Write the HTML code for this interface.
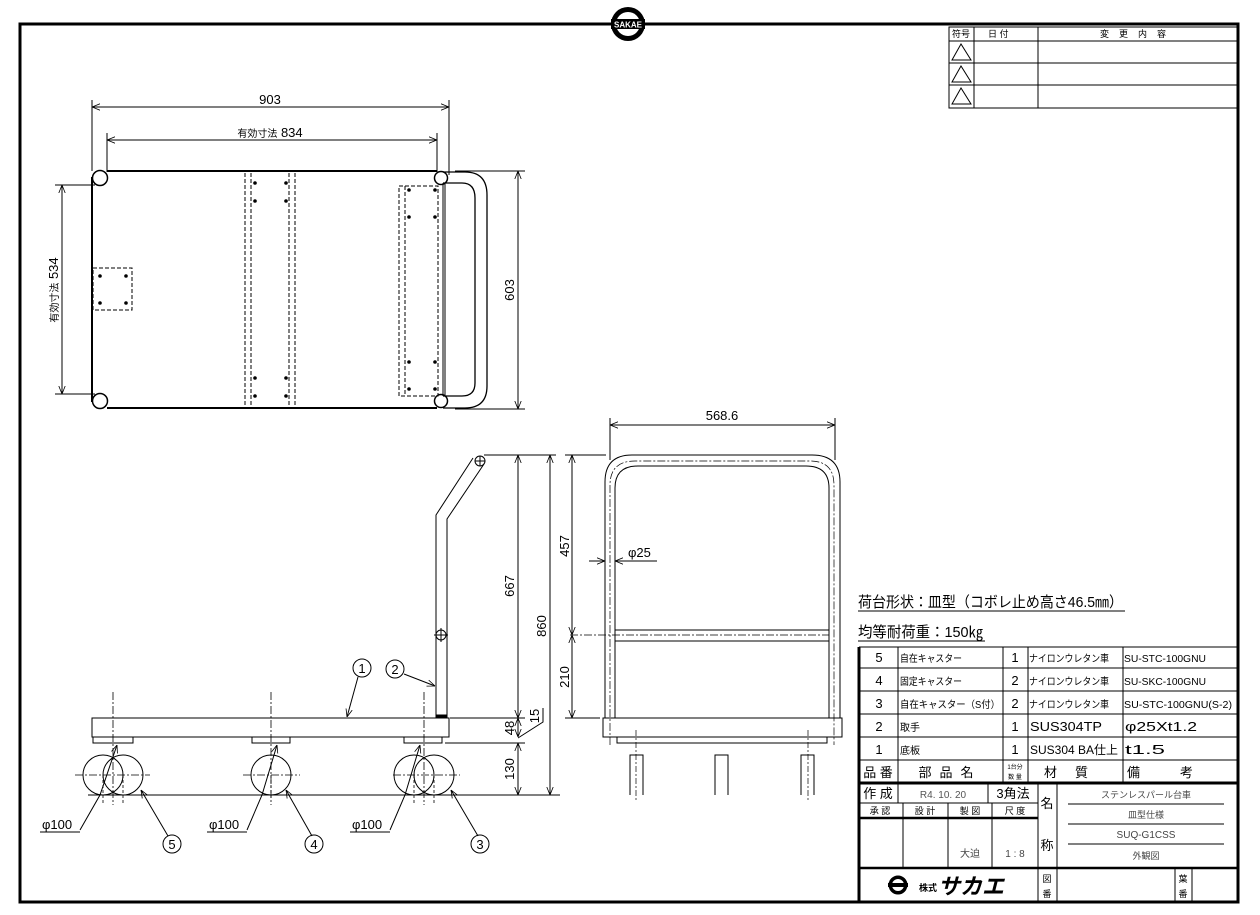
<!DOCTYPE html>
<html><head><meta charset="utf-8"><style>
html,body{margin:0;padding:0;background:#fff}
svg{display:block}
text{font-family:"Liberation Sans","Noto Sans CJK JP",sans-serif;fill:#000}
</style></head><body>
<svg width="1260" height="915" viewBox="0 0 1260 915" xmlns="http://www.w3.org/2000/svg" stroke="#000" fill="none" stroke-width="1">
<defs>
<marker id="a" viewBox="0 0 10 10" refX="10" refY="5" markerWidth="8" markerHeight="8" orient="auto-start-reverse"><path d="M0,1 L10,5 L0,9" fill="none" stroke="#000" stroke-width="1"/></marker>
</defs>
<rect x="20" y="24" width="1218" height="878" stroke-width="3"/>
<circle cx="628" cy="24" r="17" fill="#000" stroke="none"/>
<circle cx="628" cy="24" r="12" fill="#fff" stroke="none"/>
<rect x="611" y="19" width="34" height="10" fill="#000" stroke="none"/>
<text x="628" y="27.5" font-size="8" text-anchor="middle" stroke="none" style="fill:#fff" font-weight="bold">SAKAE</text>

<g stroke-width="1">
<rect x="949" y="27" width="289" height="81"/>
<line x1="949" y1="41" x2="1238" y2="41"/><line x1="949" y1="63" x2="1238" y2="63"/><line x1="949" y1="85" x2="1238" y2="85"/>
<line x1="974" y1="27" x2="974" y2="108"/><line x1="1038" y1="27" x2="1038" y2="108"/>
<path d="M961,44 L952,60 L971,60 Z M961,66 L952,82 L971,82 Z M961,88 L952,104 L971,104 Z"/>
</g>
<g font-size="9" stroke="none">
<text x="952" y="37">符号</text><text x="988" y="37">日 付</text><text x="1100" y="37" letter-spacing="10">変更内容</text>
</g>

<g>
<line x1="92" y1="100" x2="92" y2="171"/><line x1="449" y1="100" x2="449" y2="175"/>
<line x1="92" y1="107" x2="449" y2="107" marker-start="url(#a)" marker-end="url(#a)"/>
<line x1="107" y1="133" x2="107" y2="172"/><line x1="437" y1="133" x2="437" y2="172"/>
<line x1="107" y1="140" x2="437" y2="140" marker-start="url(#a)" marker-end="url(#a)"/>
<line x1="55" y1="185" x2="95" y2="185"/><line x1="55" y1="394" x2="95" y2="394"/>
<line x1="62" y1="185" x2="62" y2="394" marker-start="url(#a)" marker-end="url(#a)"/>
<line x1="455" y1="171" x2="525" y2="171"/><line x1="455" y1="409" x2="525" y2="409"/>
<line x1="518" y1="171" x2="518" y2="409" marker-start="url(#a)" marker-end="url(#a)"/>
<g stroke="none" font-size="13">
<text x="270" y="104" text-anchor="middle">903</text>
<text x="270" y="137" text-anchor="middle"><tspan font-size="10">有効寸法</tspan> 834</text>
<text transform="translate(58,290) rotate(-90)" text-anchor="middle"><tspan font-size="10">有効寸法</tspan> 534</text>
<text transform="translate(514,290) rotate(-90)" text-anchor="middle">603</text>
</g>
<path d="M92,177 V402 M107,171 H437 M107,408 H437" stroke-width="2"/>
<circle cx="100" cy="178" r="7.5" stroke-width="1.5"/><circle cx="100" cy="401" r="7.5" stroke-width="1.5"/>
<circle cx="441" cy="178" r="6.5" stroke-width="1.5"/><circle cx="441" cy="401" r="6.5" stroke-width="1.5"/>
<path d="M443,172 H465 Q487,172 487,195 V386 Q487,408 465,408 H443" stroke-width="1.3"/>
<path d="M443,183 H462 Q475,183 475,198 V383 Q475,396 462,396 H443" stroke-width="1.3"/>
<line x1="443" y1="183" x2="443" y2="396"/><line x1="445" y1="183" x2="445" y2="396"/>
<g stroke-dasharray="4,2">
<line x1="245" y1="173" x2="245" y2="407"/><line x1="251" y1="173" x2="251" y2="407"/>
<line x1="289" y1="173" x2="289" y2="407"/><line x1="295" y1="173" x2="295" y2="407"/>
<rect x="93" y="268" width="39" height="42"/>
<rect x="399" y="186" width="39" height="210"/>
<line x1="405" y1="186" x2="405" y2="396"/>
</g>
<g fill="#000" stroke="none">
<circle cx="255" cy="183" r="1.8"/><circle cx="255" cy="201" r="1.8"/><circle cx="286" cy="183" r="1.8"/><circle cx="286" cy="201" r="1.8"/>
<circle cx="255" cy="378" r="1.8"/><circle cx="255" cy="396" r="1.8"/><circle cx="286" cy="378" r="1.8"/><circle cx="286" cy="396" r="1.8"/>
<circle cx="100" cy="276" r="1.8"/><circle cx="126" cy="276" r="1.8"/><circle cx="100" cy="303" r="1.8"/><circle cx="126" cy="303" r="1.8"/>
<circle cx="409" cy="190" r="1.8"/><circle cx="435" cy="190" r="1.8"/><circle cx="409" cy="217" r="1.8"/><circle cx="435" cy="217" r="1.8"/>
<circle cx="409" cy="362" r="1.8"/><circle cx="435" cy="362" r="1.8"/><circle cx="409" cy="389" r="1.8"/><circle cx="435" cy="389" r="1.8"/>
</g>
</g>

<g>
<line x1="88" y1="795" x2="560" y2="795"/>
<rect x="92" y="718" width="357" height="19"/>
<rect x="93" y="737" width="40" height="6"/><rect x="252" y="737" width="38" height="6"/><rect x="404" y="737" width="38" height="6"/>
<rect x="436" y="715" width="11" height="3" fill="#000"/>
<path d="M436,715 V515 L473,458 M447,715 V519 L484,464"/>
<circle cx="480" cy="461" r="5"/><line x1="475" y1="461" x2="485" y2="461"/><line x1="480" y1="456" x2="480" y2="466"/>
<circle cx="441" cy="635" r="5"/><line x1="434" y1="635" x2="448" y2="635"/><line x1="441" y1="628" x2="441" y2="642"/>
<circle cx="103" cy="775" r="20"/><circle cx="123" cy="775" r="20"/>
<circle cx="271" cy="775" r="20"/>
<circle cx="414" cy="775" r="20"/><circle cx="434" cy="775" r="20"/>
<g stroke-dasharray="8,2,2,2" stroke-width="0.8">
<line x1="113" y1="692" x2="113" y2="805"/><line x1="75" y1="775" x2="150" y2="775"/>
<line x1="271" y1="692" x2="271" y2="805"/><line x1="243" y1="775" x2="300" y2="775"/>
<line x1="424" y1="692" x2="424" y2="805"/><line x1="393" y1="775" x2="460" y2="775"/>
</g>
<g stroke-dasharray="3,2" stroke-width="0.8">
<line x1="103" y1="775" x2="103" y2="803"/><line x1="123" y1="775" x2="123" y2="803"/>
<line x1="414" y1="775" x2="414" y2="803"/><line x1="434" y1="775" x2="434" y2="803"/>
<line x1="271" y1="775" x2="271" y2="800"/>
</g>
<path d="M80,830 L100,795 L117,745" marker-end="url(#a)"/><line x1="40" y1="832" x2="80" y2="832"/>
<path d="M247,830 L262,795 L277,745" marker-end="url(#a)"/><line x1="207" y1="832" x2="247" y2="832"/>
<path d="M390,830 L405,795 L420,745" marker-end="url(#a)"/><line x1="350" y1="832" x2="390" y2="832"/>
<line x1="168" y1="836" x2="141" y2="790" marker-end="url(#a)"/>
<line x1="312" y1="836" x2="286" y2="790" marker-end="url(#a)"/>
<line x1="478" y1="836" x2="451" y2="790" marker-end="url(#a)"/>
<circle cx="172" cy="844" r="9"/><circle cx="314" cy="844" r="9"/><circle cx="480" cy="844" r="9"/>
<circle cx="362" cy="668" r="9"/><circle cx="395" cy="669" r="9"/>
<line x1="358" y1="677" x2="347" y2="717" marker-end="url(#a)"/>
<line x1="404" y1="674" x2="435" y2="686" marker-end="url(#a)"/>
<g stroke="none" font-size="13">
<text x="42" y="829">φ100</text><text x="209" y="829">φ100</text><text x="352" y="829">φ100</text>
<text x="172" y="849" text-anchor="middle">5</text><text x="314" y="849" text-anchor="middle">4</text><text x="480" y="849" text-anchor="middle">3</text>
<text x="362" y="673" text-anchor="middle">1</text><text x="395" y="674" text-anchor="middle">2</text>
</g>
<line x1="484" y1="455" x2="556" y2="455"/>
<line x1="450" y1="718" x2="525" y2="718"/>
<line x1="445" y1="743" x2="525" y2="743"/>
<line x1="518" y1="455" x2="518" y2="718" marker-start="url(#a)" marker-end="url(#a)"/>
<line x1="518" y1="718" x2="518" y2="737" marker-start="url(#a)" marker-end="url(#a)"/>
<line x1="518" y1="743" x2="518" y2="795" marker-start="url(#a)" marker-end="url(#a)"/>
<line x1="550" y1="455" x2="550" y2="795" marker-start="url(#a)" marker-end="url(#a)"/>
<path d="M518,738 L543,722 V708"/>
<g stroke="none" font-size="13">
<text transform="translate(514,586) rotate(-90)" text-anchor="middle">667</text>
<text transform="translate(546,626) rotate(-90)" text-anchor="middle">860</text>
<text transform="translate(514,728) rotate(-90)" text-anchor="middle">48</text>
<text transform="translate(539,716) rotate(-90)" text-anchor="middle">15</text>
<text transform="translate(514,769) rotate(-90)" text-anchor="middle">130</text>
</g>
</g>

<g>
<line x1="610" y1="418" x2="610" y2="460"/><line x1="835" y1="418" x2="835" y2="460"/>
<line x1="610" y1="425" x2="835" y2="425" marker-start="url(#a)" marker-end="url(#a)"/>
<text x="722" y="420" font-size="13" stroke="none" text-anchor="middle">568.6</text>
<path d="M605,718 V482 Q605,455 632,455 H812 Q840,455 840,482 V718"/>
<path d="M615,718 V488 Q615,466 638,466 H806 Q829,466 829,488 V718"/>
<path d="M610,745 V485 Q610,461 635,461 H810 Q834,461 834,485 V745" stroke-dasharray="8,2,2,2" stroke-width="0.7"/>
<line x1="615" y1="630" x2="829" y2="630"/><line x1="615" y1="641" x2="829" y2="641"/>
<line x1="570" y1="635" x2="829" y2="635" stroke-dasharray="8,2,2,2" stroke-width="0.7"/>
<rect x="603" y="718" width="239" height="19"/>
<rect x="617" y="737" width="210" height="6"/>
<line x1="636" y1="730" x2="636" y2="800" stroke-dasharray="6,2,2,2" stroke-width="0.7"/>
<line x1="808" y1="730" x2="808" y2="800" stroke-dasharray="6,2,2,2" stroke-width="0.7"/>
<path d="M630,795 V755 H643 V795 M715,795 V755 H728 V795 M801,795 V755 H814 V795"/>
<line x1="565" y1="455" x2="606" y2="455"/><line x1="565" y1="718" x2="600" y2="718"/>
<line x1="572" y1="455" x2="572" y2="635" marker-start="url(#a)" marker-end="url(#a)"/>
<line x1="572" y1="635" x2="572" y2="718" marker-start="url(#a)" marker-end="url(#a)"/>
<line x1="589" y1="561" x2="605" y2="561" marker-end="url(#a)"/>
<line x1="657" y1="561" x2="615" y2="561" marker-end="url(#a)"/>
<g stroke="none" font-size="13">
<text x="628" y="557">φ25</text>
<text transform="translate(569,546) rotate(-90)" text-anchor="middle">457</text>
<text transform="translate(569,677) rotate(-90)" text-anchor="middle">210</text>
</g>
</g>

<g stroke="none" font-size="15">
<text x="858" y="607" textLength="265" lengthAdjust="spacingAndGlyphs">荷台形状：皿型（コボレ止め高さ46.5㎜）</text>
<text x="858" y="637" textLength="125" lengthAdjust="spacingAndGlyphs">均等耐荷重：150㎏</text>
</g>
<line x1="858" y1="611" x2="1125" y2="611"/>
<line x1="858" y1="641" x2="985" y2="641"/>

<g>
<line x1="859" y1="647" x2="859" y2="902" stroke-width="3"/>
<line x1="859" y1="647" x2="1238" y2="647"/>
<line x1="859" y1="668" x2="1238" y2="668"/><line x1="859" y1="691" x2="1238" y2="691"/>
<line x1="859" y1="714" x2="1238" y2="714"/><line x1="859" y1="737" x2="1238" y2="737"/>
<line x1="859" y1="760" x2="1238" y2="760"/>
<line x1="859" y1="783" x2="1238" y2="783" stroke-width="3"/>
<line x1="898" y1="647" x2="898" y2="783"/><line x1="1003" y1="647" x2="1003" y2="783"/>
<line x1="1028" y1="647" x2="1028" y2="783"/><line x1="1123" y1="647" x2="1123" y2="783"/>
<line x1="859" y1="803" x2="1038" y2="803"/>
<line x1="859" y1="818" x2="1038" y2="818" stroke-width="2.5"/>
<line x1="859" y1="868" x2="1238" y2="868" stroke-width="2.5"/>
<line x1="898" y1="783" x2="898" y2="803"/><line x1="988" y1="783" x2="988" y2="803"/>
<line x1="1038" y1="783" x2="1038" y2="902"/><line x1="1057" y1="783" x2="1057" y2="868"/>
<line x1="903" y1="803" x2="903" y2="868"/><line x1="948" y1="803" x2="948" y2="868"/><line x1="992" y1="803" x2="992" y2="868"/>
<line x1="1068" y1="804" x2="1224" y2="804"/><line x1="1068" y1="824" x2="1224" y2="824"/><line x1="1068" y1="844" x2="1224" y2="844"/>
<line x1="1057" y1="868" x2="1057" y2="902"/><line x1="1175" y1="868" x2="1175" y2="902"/><line x1="1192" y1="868" x2="1192" y2="902"/>
</g>
<g stroke="none" font-size="10">
<text x="879" y="662" text-anchor="middle" font-size="13">5</text><text x="900" y="662" textLength="62" lengthAdjust="spacingAndGlyphs">自在キャスター</text><text x="1015" y="662" text-anchor="middle" font-size="13">1</text><text x="1029" y="662" textLength="80" lengthAdjust="spacingAndGlyphs">ナイロンウレタン車</text><text x="1124" y="662" textLength="82" lengthAdjust="spacingAndGlyphs">SU-STC-100GNU</text>
<text x="879" y="685" text-anchor="middle" font-size="13">4</text><text x="900" y="685" textLength="62" lengthAdjust="spacingAndGlyphs">固定キャスター</text><text x="1015" y="685" text-anchor="middle" font-size="13">2</text><text x="1029" y="685" textLength="80" lengthAdjust="spacingAndGlyphs">ナイロンウレタン車</text><text x="1124" y="685" textLength="82" lengthAdjust="spacingAndGlyphs">SU-SKC-100GNU</text>
<text x="879" y="708" text-anchor="middle" font-size="13">3</text><text x="900" y="708" textLength="100" lengthAdjust="spacingAndGlyphs">自在キャスター（S付）</text><text x="1015" y="708" text-anchor="middle" font-size="13">2</text><text x="1029" y="708" textLength="80" lengthAdjust="spacingAndGlyphs">ナイロンウレタン車</text><text x="1124" y="708" textLength="108" lengthAdjust="spacingAndGlyphs">SU-STC-100GNU(S-2)</text>
<text x="879" y="731" text-anchor="middle" font-size="13">2</text><text x="900" y="731">取手</text><text x="1015" y="731" text-anchor="middle" font-size="13">1</text><text x="1030" y="731" font-size="13" textLength="72" lengthAdjust="spacingAndGlyphs">SUS304TP</text><text x="1125" y="731" font-size="13" textLength="72" lengthAdjust="spacingAndGlyphs">φ25Xt1.2</text>
<text x="879" y="754" text-anchor="middle" font-size="13">1</text><text x="900" y="754">底板</text><text x="1015" y="754" text-anchor="middle" font-size="13">1</text><text x="1030" y="754" font-size="12" textLength="88" lengthAdjust="spacingAndGlyphs">SUS304 BA仕上</text><text x="1125" y="754" font-size="13" textLength="40" lengthAdjust="spacingAndGlyphs">t1.5</text>
<text x="878" y="777" text-anchor="middle" font-size="13">品 番</text><text x="950" y="777" text-anchor="middle" font-size="13" letter-spacing="8">部品名</text>
<text x="1015" y="769" text-anchor="middle" font-size="6">1台分</text><text x="1015" y="779" text-anchor="middle" font-size="6">数 量</text>
<text x="1075" y="777" text-anchor="middle" font-size="13" letter-spacing="18">材質</text><text x="1180" y="777" text-anchor="middle" font-size="13" letter-spacing="40">備考</text>
<text x="878" y="798" text-anchor="middle" font-size="13">作 成</text><text x="943" y="798" text-anchor="middle" font-family="Liberation Serif" style="fill:#555">R4. 10. 20</text><text x="1013" y="798" text-anchor="middle" font-size="13">3角法</text>
<text x="880" y="814" text-anchor="middle" font-size="9">承 認</text><text x="925" y="814" text-anchor="middle" font-size="9">設 計</text><text x="970" y="814" text-anchor="middle" font-size="9">製 図</text><text x="1015" y="814" text-anchor="middle" font-size="9">尺 度</text>
<text x="970" y="857" text-anchor="middle" font-size="10" style="fill:#444">大迫</text><text x="1015" y="857" text-anchor="middle" font-size="10" style="fill:#444">1 : 8</text>
<text x="1047" y="808" text-anchor="middle" font-size="13">名</text><text x="1047" y="850" text-anchor="middle" font-size="13">称</text>
<text x="1146" y="798" text-anchor="middle" font-size="9" style="fill:#444">ステンレスパール台車</text>
<text x="1146" y="818" text-anchor="middle" font-size="9" style="fill:#444">皿型仕様</text>
<text x="1146" y="838" text-anchor="middle" font-size="10" font-family="Liberation Serif" style="fill:#444">SUQ-G1CSS</text>
<text x="1146" y="859" text-anchor="middle" font-size="9" style="fill:#444">外観図</text>
<text x="1047" y="882" text-anchor="middle" font-size="9">図</text><text x="1047" y="897" text-anchor="middle" font-size="9">番</text>
<text x="1183" y="882" text-anchor="middle" font-size="9">葉</text><text x="1183" y="897" text-anchor="middle" font-size="9">番</text>
<text x="919" y="891" font-size="9" font-weight="bold">株式</text>
<text x="938" y="894" font-size="22" font-weight="bold" font-style="italic">サカエ</text>
</g>
<circle cx="898" cy="885" r="9" fill="#000"/>
<circle cx="898" cy="885" r="6" fill="#fff" stroke="none"/>
<rect x="888" y="883" width="20" height="4" fill="#000" stroke="none"/>
</svg>
</body></html>
